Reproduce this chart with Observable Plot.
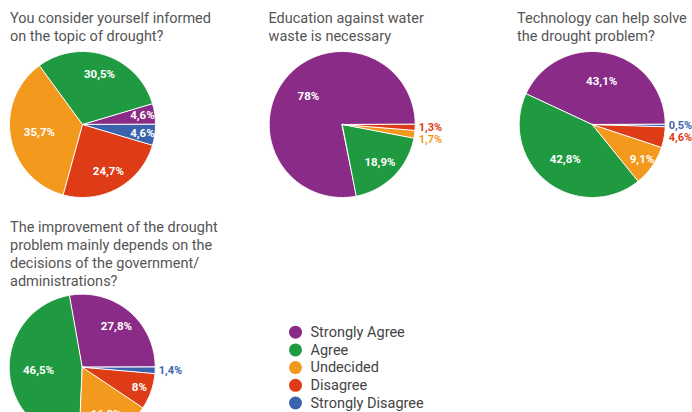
<!DOCTYPE html>
<html><head><meta charset="utf-8">
<script src="https://cdn.jsdelivr.net/npm/d3@7"></script>
<script src="https://cdn.jsdelivr.net/npm/@observablehq/plot@0.6"></script>
<style>body{margin:0;background:#fff;}</style>
</head><body><div id="chart"></div>
<script>
// ---- data ----
const categories = ["Strongly Agree", "Agree", "Undecided", "Disagree", "Strongly Disagree"];
const colors = ["#8a2b87", "#1f9a40", "#f39a1e", "#de3b17", "#3b63ad"];
const titles = [
  "You consider yourself informed\non the topic of drought?",
  "Education against water\nwaste is necessary",
  "Technology can help solve\nthe drought problem?",
  "The improvement of the drought\nproblem mainly depends on the\ndecisions of the government/\nadministrations?"
];
const informed = [4.6, 30.5, 35.7, 24.7, 4.6];
const education = [78, 18.9, 1.7, 1.3, 0];
const technology = [43.1, 42.8, 9.1, 4.6, 0.5];
const government = [27.8, 46.5, 16.3, 8, 1.4];
const outsideLabels = [[], [2, 3], [3, 4], [4]];

// ---- layout ----
const series = [informed, education, technology, government];
const layout = [
  {cx: 82, cy: 124, tx: 9.5, ty: 10},
  {cx: 341.7, cy: 124, tx: 268, ty: 10},
  {cx: 591.7, cy: 124, tx: 516.5, ty: 10},
  {cx: 81.7, cy: 366.7, tx: 9.5, ty: 218.5}
];
const R = 73;
const fmt = v => (Number.isInteger(v) ? String(v) : v.toFixed(1).replace(".", ",")) + "%";

const slicePts = [], inLabels = [], outLabels = [], titleData = [];
series.forEach((vals, i) => {
  const {cx, cy, tx, ty} = layout[i];
  titleData.push({x: tx, y: ty, text: titles[i]});
  const total = d3.sum(vals);
  let cum = 0;
  const outs = [];
  vals.forEach((v, j) => {
    if (v <= 0) return;
    const a0 = 2 * Math.PI * cum / total, a1 = 2 * Math.PI * (cum + v) / total;
    cum += v;
    const key = i + "-" + j;
    slicePts.push({key, cat: categories[j], x: cx, y: cy});
    const n = Math.max(2, Math.ceil((a1 - a0) / (Math.PI / 180)));
    for (let k = 0; k <= n; k++) {
      const a = a0 + (a1 - a0) * k / n;
      slicePts.push({key, cat: categories[j], x: cx + R * Math.cos(a), y: cy - R * Math.sin(a)});
    }
    const am = (a0 + a1) / 2, frac = v / total;
    if (outsideLabels[i].includes(j)) {
      outs.push({x: cx + R + 3.5, y: cy - R * Math.sin(am), text: fmt(v), cat: categories[j]});
    } else {
      const f = frac > 0.35 ? 0.6 : frac < 0.1 ? 0.83 : 0.73;
      inLabels.push({x: cx + f * R * Math.cos(am), y: cy - f * R * Math.sin(am), text: fmt(v)});
    }
  });
  outs.sort((a, b) => a.y - b.y);
  for (let k = 1; k < outs.length; k++) if (outs[k].y - outs[k - 1].y < 11.5) outs[k].y = outs[k - 1].y + 11.5;
  outLabels.push(...outs);
});

const legendX = 295, legendY = 331.7, legendStep = 17.7;

const chart = Plot.plot({
  width: 692, height: 412, margin: 0,
  x: {type: "identity", axis: null},
  y: {type: "identity", axis: null},
  color: {domain: categories, range: colors},
  style: {fontFamily: "Roboto, 'DejaVu Sans', sans-serif", background: "#fff"},
  marks: [
    Plot.line(slicePts, {x: "x", y: "y", z: "key", fill: "cat", stroke: "white", strokeWidth: 1, curve: "linear-closed"}),
    Plot.text(inLabels, {x: "x", y: "y", text: "text", fill: "white", fontWeight: "bold", fontSize: 11.5}),
    Plot.text(outLabels, {x: "x", y: "y", text: "text", fill: "cat", fontWeight: "bold", fontSize: 11, textAnchor: "start"}),
    Plot.text(titleData, {x: "x", y: "y", text: "text", textAnchor: "start", lineAnchor: "top", fontSize: 14.5, lineHeight: 1.24, fill: "#555"}),
    Plot.dot(categories, {x: () => legendX, y: (d, i) => legendY + i * legendStep, r: 6.5, fill: d => d}),
    Plot.text(categories, {x: () => legendX + 15, y: (d, i) => legendY + i * legendStep, text: d => d, textAnchor: "start", fontSize: 14.5, fill: "#444"})
  ]
});
document.getElementById("chart").appendChild(chart);
</script>
</body></html>
